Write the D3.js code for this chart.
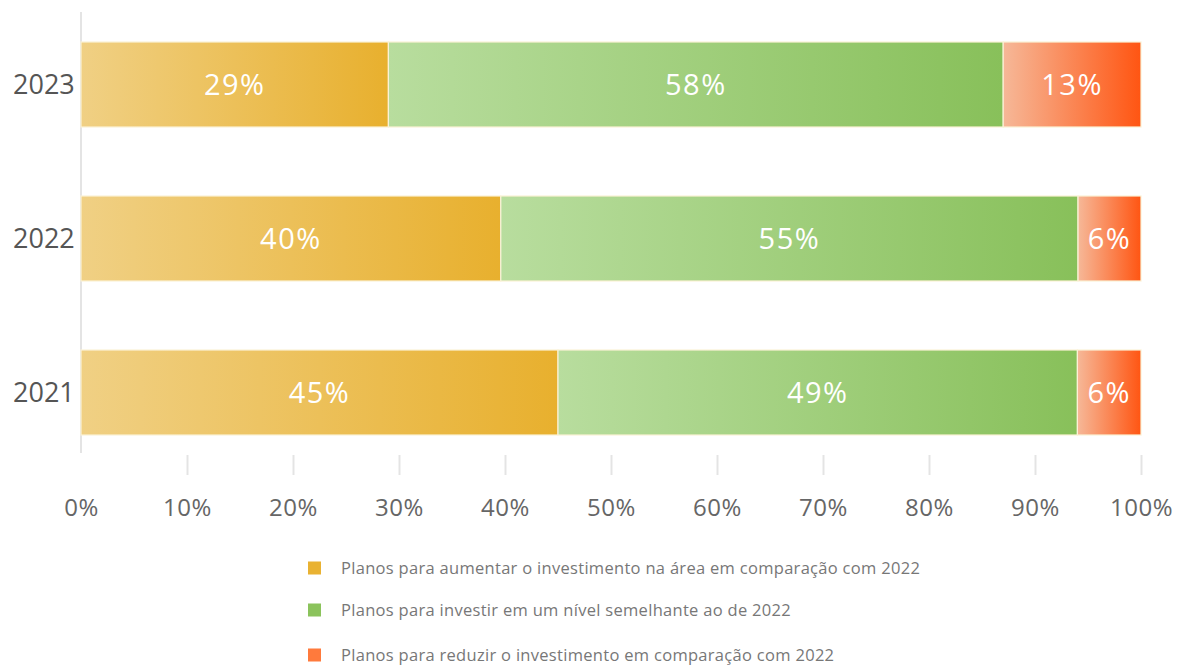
<!DOCTYPE html>
<html>
<head>
<meta charset="utf-8">
<script src="https://cdn.jsdelivr.net/npm/d3@7/dist/d3.min.js"></script>
<style>
  html, body { margin: 0; padding: 0; background: #fff; }
  svg { display: block; font-family: "Open Sans", "Noto Sans", sans-serif; }
</style>
</head>
<body>
<svg id="chart" width="1178" height="665"></svg>
<script>
// Survey answers per year (percent of respondents)
const years = ["2023", "2022", "2021"];
const increase = [29, 40, 45];
const similar = [58, 55, 49];
const reduce = [13, 6, 6];
const seriesNames = [
  "Planos para aumentar o investimento na área em comparação com 2022",
  "Planos para investir em um nível semelhante ao de 2022",
  "Planos para reduzir o investimento em comparação com 2022"
];
const tickValues = [0, 10, 20, 30, 40, 50, 60, 70, 80, 90, 100];

const series = [increase, similar, reduce];
const gradStops = [
  ["#f0d084", "#e8b02e"],
  ["#b8dd9e", "#88c05a"],
  ["#f6b898", "#ff5512"]
];
const legendColors = ["#e9b232", "#8bc35c", "#ff7a3c"];

const svg = d3.select("#chart");

const x = d3.scaleLinear().domain([0, 100]).range([81, 1141]);
const y = d3.scaleBand().domain(years).range([42, 435]).paddingInner(0.448).paddingOuter(0);

// gradients for each series
const defs = svg.append("defs");
gradStops.forEach((g, i) => {
  const lg = defs.append("linearGradient")
    .attr("id", "grad" + i)
    .attr("x1", "0%").attr("x2", "100%").attr("y1", "0%").attr("y2", "0%");
  lg.append("stop").attr("offset", "0%").attr("stop-color", g[0]);
  lg.append("stop").attr("offset", "100%").attr("stop-color", g[1]);
});

// vertical baseline at 0%
svg.append("line")
  .attr("x1", x(0)).attr("x2", x(0))
  .attr("y1", 12).attr("y2", 453)
  .attr("stroke", "#e4e4e4").attr("stroke-width", 2);

// bottom axis: tick marks and labels
const axis = d3.axisBottom(x)
  .tickValues(tickValues)
  .tickFormat(d => d + "%")
  .tickSize(20)
  .tickPadding(24);
const axisG = svg.append("g")
  .attr("transform", "translate(0,455)")
  .call(axis);
axisG.select(".domain").remove();
axisG.selectAll(".tick line")
  .attr("stroke", "#e4e4e4").attr("stroke-width", 2)
  .filter(d => d === 0).remove();
axisG.selectAll(".tick text")
  .attr("fill", "#666")
  .attr("font-size", 24)
  .attr("letter-spacing", 0.5)
  .attr("font-family", "'Open Sans', sans-serif");

// stacked segments, each row scaled to its total
years.forEach((yr, r) => {
  const total = series.reduce((s, arr) => s + arr[r], 0);
  let acc = 0;
  series.forEach((arr, i) => {
    const v = arr[r];
    const x0 = x(acc / total * 100);
    const x1 = x((acc + v) / total * 100);
    acc += v;
    svg.append("rect")
      .attr("x", x0).attr("y", y(yr))
      .attr("width", x1 - x0).attr("height", y.bandwidth())
      .attr("fill", "url(#grad" + i + ")")
      .attr("stroke", "#fbf2d6").attr("stroke-width", 1.2);
    svg.append("text")
      .attr("x", (x0 + x1) / 2)
      .attr("y", y(yr) + y.bandwidth() / 2)
      .attr("dy", "0.36em")
      .attr("text-anchor", "middle")
      .attr("fill", "#fff")
      .attr("font-size", 29)
      .attr("letter-spacing", 1.5)
      .text(v + "%");
  });
  svg.append("text")
    .attr("x", 13)
    .attr("y", y(yr) + y.bandwidth() / 2)
    .attr("dy", "0.36em")
    .attr("fill", "#555")
    .attr("font-size", 27)
    .text(yr);
});

// legend
const legendY = [568, 610, 655];
seriesNames.forEach((name, i) => {
  svg.append("rect")
    .attr("x", 308).attr("y", legendY[i] - 6.5)
    .attr("width", 13).attr("height", 13)
    .attr("fill", legendColors[i]);
  svg.append("text")
    .attr("x", 341).attr("y", legendY[i])
    .attr("dy", "0.35em")
    .attr("fill", "#777")
    .attr("font-size", 16.5)
    .attr("letter-spacing", 0.3)
    .text(name);
});
</script>
</body>
</html>
